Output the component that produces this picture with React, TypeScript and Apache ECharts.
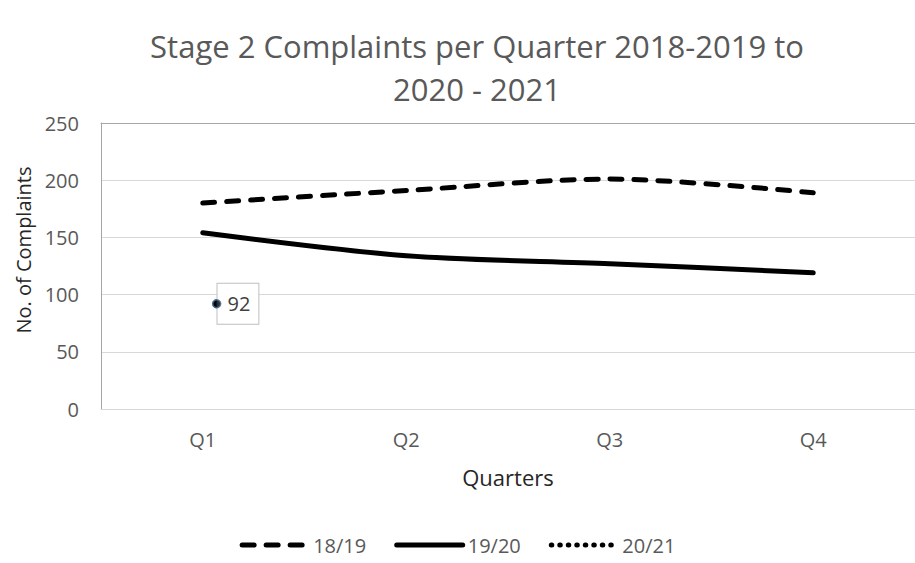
import React, { useEffect, useRef } from "react";
import * as echarts from "echarts";

const quarters = ["Q1", "Q2", "Q3", "Q4"];
const series1819 = [180, 191, 201, 189];
const series1920 = [154, 134, 127, 119];
const series2021: (number | null)[] = [92, null, null, null];
const yTicks = { min: 0, max: 250, interval: 50 };

const FONT = "'Open Sans', 'Noto Sans', sans-serif";

export default function App() {
  const ref = useRef<HTMLDivElement>(null);

  useEffect(() => {
    if (!ref.current) return;
    const chart = echarts.init(ref.current, undefined, { renderer: "svg" });
    const pointMarker = {
      symbol: "circle",
      symbolSize: 8,
      symbolOffset: [14, 0],
      itemStyle: { color: "#000000", borderColor: "#41719c", borderWidth: 1.5 },
    };
    chart.setOption({
      animation: false,
      backgroundColor: "#ffffff",
      textStyle: { fontFamily: FONT },
      graphic: [
        {
          type: "text",
          x: 477,
          y: 24,
          style: {
            text: "Stage 2 Complaints per Quarter 2018-2019 to\n2020 - 2021",
            textAlign: "center",
            fill: "#595959",
            fontFamily: FONT,
            fontSize: 31,
            lineHeight: 43,
          },
        },
      ],
      grid: { left: 101, top: 123, right: -10, bottom: 154, containLabel: false },
      legend: {
        top: 530,
        left: "center",
        itemWidth: 66,
        itemHeight: 14,
        itemGap: 28,
        itemStyle: { opacity: 0 },
        lineStyle: { width: 5, cap: "round" },
        textStyle: { fontSize: 20, color: "#595959", fontFamily: FONT },
        data: ["18/19", "19/20", "20/21"],
      },
      xAxis: [
        {
          type: "category",
          data: quarters,
          boundaryGap: true,
          name: "Quarters",
          nameLocation: "middle",
          nameGap: 57,
          nameTextStyle: { fontSize: 22, color: "#262626", fontFamily: FONT },
          axisLine: { show: true, lineStyle: { color: "#d9d9d9", width: 1 } },
          axisTick: { show: false },
          axisLabel: { fontSize: 20, color: "#595959", margin: 20, fontFamily: FONT },
        },
        {
          type: "category",
          data: quarters,
          position: "top",
          axisLine: { show: true, lineStyle: { color: "#a6a6a6", width: 1 } },
          axisTick: { show: false },
          axisLabel: { show: false },
        },
      ],
      yAxis: {
        type: "value",
        min: yTicks.min,
        max: yTicks.max,
        interval: yTicks.interval,
        name: "No. of Complaints",
        nameLocation: "middle",
        nameGap: 60,
        nameRotate: 90,
        nameTextStyle: {
          fontSize: 20,
          color: "#262626",
          fontFamily: FONT,
          padding: [0, 0, 0, 32],
        },
        axisLine: { show: true, lineStyle: { color: "#a6a6a6", width: 1 } },
        axisTick: { show: false },
        axisLabel: { fontSize: 20, color: "#595959", margin: 22, fontFamily: FONT },
        splitLine: { lineStyle: { color: "#d9d9d9", width: 1 } },
      },
      series: [
        {
          name: "18/19",
          type: "line",
          data: series1819,
          smooth: 0.3,
          symbol: "none",
          color: "#000000",
          lineStyle: { color: "#000000", width: 5, type: [12, 12], cap: "round" },
        },
        {
          name: "19/20",
          type: "line",
          data: series1920,
          smooth: 0.3,
          symbol: "none",
          color: "#000000",
          lineStyle: { color: "#000000", width: 5, cap: "round" },
        },
        {
          name: "20/21",
          type: "line",
          data: series2021,
          ...pointMarker,
          showSymbol: true,
          color: "#000000",
          lineStyle: { color: "#000000", width: 4, type: [0.5, 8], cap: "round" },
          label: {
            show: true,
            position: "right",
            distance: -4,
            formatter: "{c}",
            fontSize: 20,
            color: "#404040",
            fontFamily: FONT,
            backgroundColor: "#ffffff",
            borderColor: "#bfbfbf",
            borderWidth: 1,
            padding: [10, 8, 10, 10],
          },
        },
        {
          // marker drawn again above the data label box
          type: "scatter",
          data: series2021,
          ...pointMarker,
          z: 10,
          silent: true,
        },
      ],
    });
    return () => chart.dispose();
  }, []);

  return (
    <div
      ref={ref}
      style={{ position: "fixed", left: 0, top: 0, width: 915, height: 563 }}
    />
  );
}
